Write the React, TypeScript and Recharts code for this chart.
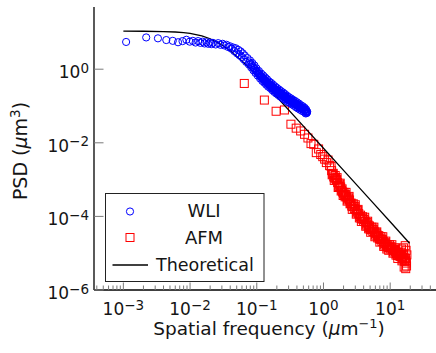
import { ScatterChart, Scatter, XAxis, YAxis, Legend } from "recharts";

const FONT = "'DejaVu Sans', sans-serif";
const TEXT = "#151515";
const TICK_COLOR = "#7a7a7a";

// plot box in page pixels (the right edge falls just outside the window)
const PLOT = { left: 94, top: 7, right: 438, bottom: 290 };

const X_DOMAIN = [3.63e-4, 52.1];
const Y_DOMAIN = [1e-6, 49];

const xMajorTicks = [1e-3, 1e-2, 1e-1, 1, 10];
const xMinorDecades = [1e-4, 1e-3, 1e-2, 1e-1, 1, 10];
const xMinorSteps = [2, 3, 4, 5, 6, 7, 8, 9];
const yMajorTicks = [1e-6, 1e-4, 1e-2, 1];

const xTicks = [
  ...xMajorTicks,
  ...xMinorDecades.flatMap((d) => xMinorSteps.map((s) => s * d)),
]
  .filter((v) => v >= X_DOMAIN[0] && v <= X_DOMAIN[1])
  .sort((a, b) => a - b);

// [frequency (1/um), PSD (um^3)]
const wli: [number, number][] = [
  [0.0011, 5.5], [0.0022, 7.3], [0.0033, 6.9], [0.0044, 6.2], [0.0055, 5.9],
  [0.0066, 5.4], [0.0077, 5.8], [0.0088, 6.3], [0.0099, 5.6], [0.011, 5.9],
  [0.0121, 5.3], [0.0132, 5.8], [0.0143, 5.2], [0.0154, 5.6], [0.0165, 5.0],
  [0.0176, 5.4], [0.0187, 4.9], [0.0198, 5.3], [0.0209, 4.8], [0.022, 5.2],
  [0.0242, 4.7], [0.0264, 5.1], [0.0286, 4.6], [0.0308, 4.9], [0.033, 4.4],
  [0.0352, 4.6], [0.0374, 4.0], [0.0396, 4.2], [0.0418, 3.6], [0.044, 3.9],
  [0.0462, 3.1], [0.0484, 3.7], [0.0506, 2.7], [0.0528, 3.35], [0.055, 2.4],
  [0.0572, 3.05], [0.0594, 2.15], [0.0616, 2.7], [0.0638, 1.86], [0.066, 2.36],
  [0.0693, 1.58], [0.0726, 2.0], [0.0759, 1.35], [0.0792, 1.73], [0.0825, 1.12],
  [0.0858, 1.47], [0.0891, 0.93], [0.0924, 1.26], [0.0957, 0.79], [0.099, 1.05],
  [0.1034, 0.67], [0.1078, 0.89], [0.1122, 0.56], [0.1166, 0.76], [0.121, 0.48],
  [0.1254, 0.67], [0.1298, 0.43], [0.1342, 0.59], [0.1386, 0.38], [0.143, 0.53],
  [0.1485, 0.335], [0.154, 0.46], [0.1595, 0.307], [0.165, 0.42], [0.1705, 0.27],
  [0.176, 0.378], [0.1826, 0.242], [0.1892, 0.336], [0.1958, 0.219], [0.2024, 0.305],
  [0.209, 0.2], [0.2167, 0.278], [0.2244, 0.181], [0.2321, 0.252], [0.2398, 0.167],
  [0.2486, 0.231], [0.2574, 0.153], [0.2662, 0.21], [0.275, 0.14], [0.2849, 0.189],
  [0.2948, 0.128], [0.3047, 0.173], [0.3157, 0.119], [0.3267, 0.16], [0.3377, 0.11],
  [0.3498, 0.147], [0.3619, 0.102], [0.374, 0.137], [0.3872, 0.093], [0.4004, 0.126],
  [0.4147, 0.086], [0.429, 0.116], [0.4433, 0.08], [0.4587, 0.105], [0.4741, 0.074],
  [0.4906, 0.098], [0.5071, 0.07], [0.5236, 0.089], [0.539, 0.063], [0.55, 0.08],
  [0.56, 0.064], [0.57, 0.07],
  // readings along the middle of the dense band
  [0.0775, 1.53], [0.0808, 1.4], [0.0841, 1.28], [0.0875, 1.17], [0.0908, 1.08],
  [0.094, 0.99], [0.0973, 0.91], [0.1012, 0.84], [0.1056, 0.77], [0.11, 0.71],
  [0.1144, 0.65], [0.1188, 0.6], [0.1232, 0.57], [0.1276, 0.54], [0.132, 0.5],
  [0.1364, 0.475], [0.1408, 0.45], [0.1458, 0.42], [0.1512, 0.39], [0.1568, 0.375],
  [0.1622, 0.36], [0.1678, 0.335], [0.1732, 0.32], [0.1793, 0.3], [0.1859, 0.285],
  [0.1925, 0.27], [0.1991, 0.258], [0.2057, 0.247], [0.2128, 0.236], [0.2205, 0.225],
  [0.2282, 0.214], [0.2359, 0.205], [0.2442, 0.196], [0.253, 0.188], [0.2618, 0.179],
  [0.2706, 0.171], [0.28, 0.163], [0.2898, 0.156], [0.2997, 0.149], [0.3102, 0.143],
  [0.3212, 0.138], [0.3322, 0.132], [0.3437, 0.127], [0.3558, 0.122], [0.368, 0.118],
  [0.3806, 0.113], [0.3938, 0.108], [0.4075, 0.104], [0.4218, 0.1], [0.4361, 0.096],
  [0.451, 0.092], [0.4664, 0.088], [0.4823, 0.085], [0.4988, 0.082], [0.5153, 0.079],
  [0.5313, 0.076], [0.5445, 0.072], [0.555, 0.07], [0.565, 0.067],
  [0.1001, 0.88], [0.1045, 0.76], [0.1089, 0.76], [0.1133, 0.64], [0.1177, 0.64],
  [0.1221, 0.55], [0.1265, 0.57], [0.1309, 0.48], [0.1353, 0.5], [0.1397, 0.43],
  [0.1444, 0.45], [0.1499, 0.38], [0.1554, 0.4], [0.1609, 0.34], [0.1664, 0.36],
  [0.1719, 0.3], [0.1776, 0.32], [0.1842, 0.27], [0.1908, 0.29], [0.1974, 0.245],
  [0.2041, 0.265], [0.2109, 0.225], [0.2186, 0.24], [0.2263, 0.205], [0.234, 0.22],
  [0.242, 0.19], [0.2508, 0.2], [0.2596, 0.17], [0.2684, 0.183], [0.2775, 0.158],
  [0.2874, 0.167], [0.2973, 0.144], [0.3075, 0.153], [0.3185, 0.134], [0.3295, 0.141],
  [0.3407, 0.124], [0.3528, 0.131], [0.3649, 0.114], [0.3773, 0.121], [0.3905, 0.105],
  [0.404, 0.111], [0.4183, 0.097], [0.4326, 0.103], [0.4472, 0.089], [0.4625, 0.094],
  [0.4782, 0.083], [0.4947, 0.087], [0.5112, 0.077], [0.5277, 0.081], [0.542, 0.07],
];

const afm: [number, number][] = [
  [0.065, 0.41], [0.13, 0.145], [0.195, 0.072], [0.26, 0.078], [0.325, 0.032],
  [0.39, 0.025], [0.455, 0.021], [0.52, 0.017], [0.585, 0.0135], [0.65, 0.0095],
  [0.715, 0.0091], [0.78, 0.0054], [0.845, 0.0068], [0.91, 0.0048], [0.975, 0.0042],
  [1.04, 0.0036], [1.105, 0.0029], [1.17, 0.0034], [1.235, 0.0024],
  [1.3, 2.29e-3], [1.35, 1.35e-3], [1.4, 1.48e-3], [1.45, 9.5e-4], [1.5, 1.29e-3],
  [1.55, 9.7e-4], [1.6, 1.13e-3], [1.66, 6.1e-4], [1.72, 7.0e-4], [1.78, 8.0e-4],
  [1.84, 4.9e-4], [1.9, 5.6e-4], [1.97, 3.7e-4], [2.04, 4.5e-4], [2.11, 3.4e-4],
  [2.18, 4.5e-4], [2.26, 2.6e-4], [2.34, 3.0e-4], [2.42, 3.5e-4], [2.5, 2.2e-4],
  [2.6, 2.3e-4], [2.7, 1.55e-4], [2.8, 2.2e-4], [2.9, 1.63e-4], [3.0, 2.07e-4],
  [3.1, 1.15e-4], [3.2, 1.33e-4], [3.3, 1.55e-4], [3.45, 9.1e-5], [3.6, 1.08e-4],
  [3.7, 7.3e-5], [3.85, 9.8e-5], [4.0, 7.3e-5], [4.15, 9.5e-5], [4.3, 5.4e-5],
  [4.45, 6.3e-5], [4.6, 7.4e-5], [4.75, 4.6e-5], [4.9, 5.5e-5], [5.1, 3.7e-5],
  [5.3, 5.1e-5], [5.5, 3.9e-5], [5.7, 5.1e-5], [5.9, 2.8e-5], [6.1, 3.4e-5],
  [6.3, 3.8e-5], [6.5, 2.6e-5], [6.75, 3.0e-5], [7.0, 2.0e-5], [7.25, 2.8e-5],
  [7.5, 2.1e-5], [7.75, 2.8e-5], [8.0, 1.53e-5], [8.3, 1.83e-5], [8.6, 2.13e-5],
  [8.9, 1.3e-5], [9.2, 1.7e-5], [9.5, 1.2e-5], [9.8, 1.7e-5], [10.2, 1.3e-5],
  [10.6, 1.7e-5], [11.0, 1.0e-5], [11.4, 1.17e-5], [11.8, 1.41e-5], [12.2, 8.9e-6],
  [12.6, 1.05e-5], [13.0, 7.2e-6], [13.5, 1.05e-5], [14.0, 8.1e-6], [14.5, 1.07e-5],
  [15.0, 6.2e-6], [15.5, 7.6e-6], [16.0, 9.3e-6], [16.5, 6.0e-6], [17.0, 7.2e-6],
  [17.5, 5.4e-6], [14.8, 1.3e-5], [15.8, 1.4e-5], [16.8, 1.6e-5], [17.3, 1.2e-5],
  [17.8, 9e-6], [16.2, 4.2e-6], [17.1, 3.8e-6], [17.6, 4.5e-6],
  // readings along the middle of the dense band
  [1.325, 1.75e-3], [1.375, 1.42e-3], [1.425, 1.18e-3], [1.475, 1.1e-3], [1.525, 1.1e-3],
  [1.575, 1.0e-3], [1.63, 8.3e-4], [1.69, 6.5e-4], [1.75, 7.5e-4], [1.81, 6.3e-4],
  [1.87, 5.2e-4], [1.935, 4.6e-4], [2.0, 4.1e-4], [2.075, 3.9e-4], [2.145, 3.9e-4],
  [2.22, 3.4e-4], [2.3, 2.8e-4], [2.38, 3.2e-4], [2.46, 2.8e-4], [2.55, 2.25e-4],
  [2.65, 1.9e-4], [2.75, 1.85e-4], [2.85, 1.9e-4], [2.95, 1.84e-4], [3.05, 1.55e-4],
  [3.15, 1.24e-4], [3.25, 1.44e-4], [3.375, 1.19e-4], [3.525, 9.9e-5], [3.65, 8.9e-5],
  [3.775, 8.5e-5], [3.925, 8.5e-5], [4.075, 8.3e-5], [4.225, 7.2e-5], [4.375, 5.8e-5],
  [4.525, 6.8e-5], [4.675, 5.8e-5], [4.825, 5.0e-5], [5.0, 4.5e-5], [5.2, 4.3e-5],
  [5.4, 4.5e-5], [5.6, 4.5e-5], [5.8, 3.8e-5], [6.0, 3.1e-5], [6.2, 3.6e-5],
  [6.4, 3.1e-5], [6.625, 2.8e-5], [6.875, 2.45e-5], [7.125, 2.4e-5], [7.375, 2.4e-5],
  [7.625, 2.4e-5], [7.875, 2.1e-5], [8.15, 1.67e-5], [8.45, 1.97e-5], [8.75, 1.66e-5],
  [9.05, 1.47e-5], [9.35, 1.43e-5], [9.65, 1.43e-5], [10.0, 1.49e-5], [10.4, 1.49e-5],
  [10.8, 1.3e-5], [11.2, 1.08e-5], [11.6, 1.28e-5], [12.0, 1.12e-5], [12.4, 9.7e-6],
  [12.8, 8.7e-6], [13.25, 8.7e-6], [13.75, 9.2e-6], [14.25, 9.3e-6], [14.75, 8.1e-6],
  [15.25, 6.9e-6], [15.75, 8.4e-6], [16.25, 7.5e-6], [16.75, 6.6e-6], [17.25, 6.2e-6],
];

const theoretical: [number, number][] = [
  [0.001, 10.78], [0.002, 10.73], [0.004, 10.54], [0.006, 10.24], [0.008, 9.85],
  [0.01, 9.38], [0.015, 8.06], [0.02, 6.73], [0.03, 4.57], [0.04, 3.16],
  [0.06, 1.67], [0.1, 0.669], [0.2, 0.1754], [0.5, 0.02846], [1, 0.00712],
  [2, 0.001783], [5, 2.853e-4], [10, 7.13e-5], [19.5, 1.87e-5],
];

const toPoints = (rows: [number, number][]) => rows.map(([f, psd]) => ({ f, psd }));

function expLabel(v: number) {
  const e = Math.round(Math.log10(v));
  return e < 0 ? `\u2212${-e}` : `${e}`;
}

function Pow10({ x, y, v, anchor }: { x: number; y: number; v: number; anchor: string }) {
  return (
    <text x={x} y={y} textAnchor={anchor} fontFamily={FONT} fontSize={17} fill={TEXT}>
      10
      <tspan dy={-5.5} fontSize={13.5}>
        {expLabel(v)}
      </tspan>
    </text>
  );
}

function BottomTick(props: any) {
  const { x, payload } = props;
  const major = xMajorTicks.includes(payload.value);
  return (
    <g>
      <line x1={x} x2={x} y1={PLOT.bottom} y2={PLOT.bottom - (major ? 7.5 : 4.5)} stroke={TICK_COLOR} />
      {major && <Pow10 x={x} y={315} v={payload.value} anchor="middle" />}
    </g>
  );
}

function TopTick(props: any) {
  const { x, payload } = props;
  const major = xMajorTicks.includes(payload.value);
  return <line x1={x} x2={x} y1={PLOT.top} y2={PLOT.top + (major ? 8.5 : 5.5)} stroke={TICK_COLOR} />;
}

function LeftTick(props: any) {
  const { y, payload } = props;
  return (
    <g>
      <line x1={PLOT.left} x2={PLOT.left + 9.5} y1={y} y2={y} stroke={TICK_COLOR} />
      <Pow10 x={89} y={y + 9} v={payload.value} anchor="end" />
    </g>
  );
}

function RightTick(props: any) {
  const { y } = props;
  return <line x1={PLOT.right} x2={PLOT.right - 9.5} y1={y} y2={y} stroke={TICK_COLOR} />;
}

const Ring = (p: any) => (
  <circle cx={p.cx} cy={p.cy} r={3.6} fill="none" stroke="#0000ff" strokeWidth={1} />
);
const Box = (p: any) => (
  <rect x={p.cx - 4} y={p.cy - 4} width={8} height={8} fill="none" stroke="#ff0000" strokeWidth={1} />
);

function LegendBox() {
  return (
    <svg width={160} height={90} style={{ display: "block" }}>
      <rect x={0.5} y={0.5} width={158.5} height={88} fill="#fff" stroke="#222" strokeWidth={1} />
      <circle cx={25} cy={18.5} r={3.6} fill="none" stroke="#0000ff" />
      <text x={99} y={24} textAnchor="middle" fontFamily={FONT} fontSize={18} fill={TEXT}>
        WLI
      </text>
      <rect x={21} y={40.5} width={8} height={8} fill="none" stroke="#ff0000" />
      <text x={99} y={51} textAnchor="middle" fontFamily={FONT} fontSize={18} fill={TEXT}>
        AFM
      </text>
      <line x1={7.5} x2={43} y1={72} y2={72} stroke="#000" strokeWidth={1.3} />
      <text x={51} y={77.5} fontFamily={FONT} fontSize={17.5} fill={TEXT}>
        Theoretical
      </text>
    </svg>
  );
}

export default function App() {
  return (
    <div
      style={{
        position: "fixed",
        left: 0,
        top: 0,
        width: 436,
        height: 353,
        overflow: "hidden",
        background: "#fff",
      }}
    >
      <ScatterChart width={442} height={353} margin={{ top: 7, right: 4, bottom: 0, left: 0 }}>
        <XAxis
          xAxisId="b"
          type="number"
          dataKey="f"
          scale="log"
          domain={X_DOMAIN}
          allowDataOverflow
          ticks={xTicks}
          interval={0}
          height={63}
          tickLine={false}
          axisLine={{ stroke: "#000", strokeWidth: 1.3 }}
          tick={BottomTick}
          label={{
            content: () => (
              <text x={269} y={335} textAnchor="middle" fontFamily={FONT} fontSize={18.5} fill={TEXT}>
                Spatial frequency (<tspan fontStyle="italic">μ</tspan>m
                <tspan dy={-7} fontSize={13}>
                  −1
                </tspan>
                <tspan dy={7}>)</tspan>
              </text>
            ),
          }}
        />
        <XAxis
          xAxisId="t"
          orientation="top"
          type="number"
          dataKey="f"
          scale="log"
          domain={X_DOMAIN}
          allowDataOverflow
          ticks={xTicks}
          interval={0}
          height={0}
          tickLine={false}
          axisLine={{ stroke: "#000", strokeWidth: 1.3 }}
          tick={TopTick}
        />
        <YAxis
          yAxisId="l"
          type="number"
          dataKey="psd"
          scale="log"
          domain={Y_DOMAIN}
          allowDataOverflow
          ticks={yMajorTicks}
          interval={0}
          width={94}
          tickLine={false}
          axisLine={{ stroke: "#000", strokeWidth: 1.3 }}
          tick={LeftTick}
          label={{
            content: () => (
              <text
                x={27}
                y={151}
                transform="rotate(-90 27 151)"
                textAnchor="middle"
                fontFamily={FONT}
                fontSize={19}
                fill={TEXT}
              >
                PSD (<tspan fontStyle="italic">μ</tspan>m
                <tspan dy={-7} fontSize={13.5}>
                  3
                </tspan>
                <tspan dy={7}>)</tspan>
              </text>
            ),
          }}
        />
        <YAxis
          yAxisId="r"
          orientation="right"
          type="number"
          dataKey="psd"
          scale="log"
          domain={Y_DOMAIN}
          allowDataOverflow
          ticks={yMajorTicks}
          interval={0}
          width={0}
          tickLine={false}
          axisLine={{ stroke: "#000", strokeWidth: 1.3 }}
          tick={RightTick}
        />
        <Scatter
          name="AFM"
          data={toPoints(afm)}
          xAxisId="b"
          yAxisId="l"
          shape={Box}
          isAnimationActive={false}
        />
        <Scatter
          name="Theoretical"
          data={toPoints(theoretical)}
          xAxisId="b"
          yAxisId="l"
          line={{ stroke: "#000", strokeWidth: 1.3 }}
          lineType="joint"
          shape={() => <g />}
          isAnimationActive={false}
        />
        <Scatter
          name="WLI"
          data={toPoints(wli)}
          xAxisId="b"
          yAxisId="l"
          shape={Ring}
          isAnimationActive={false}
        />
        <Legend
          layout="vertical"
          align="center"
          verticalAlign="middle"
          content={() => <LegendBox />}
          wrapperStyle={{ left: 105, top: 193, width: 160, height: 90 }}
        />
      </ScatterChart>
    </div>
  );
}
